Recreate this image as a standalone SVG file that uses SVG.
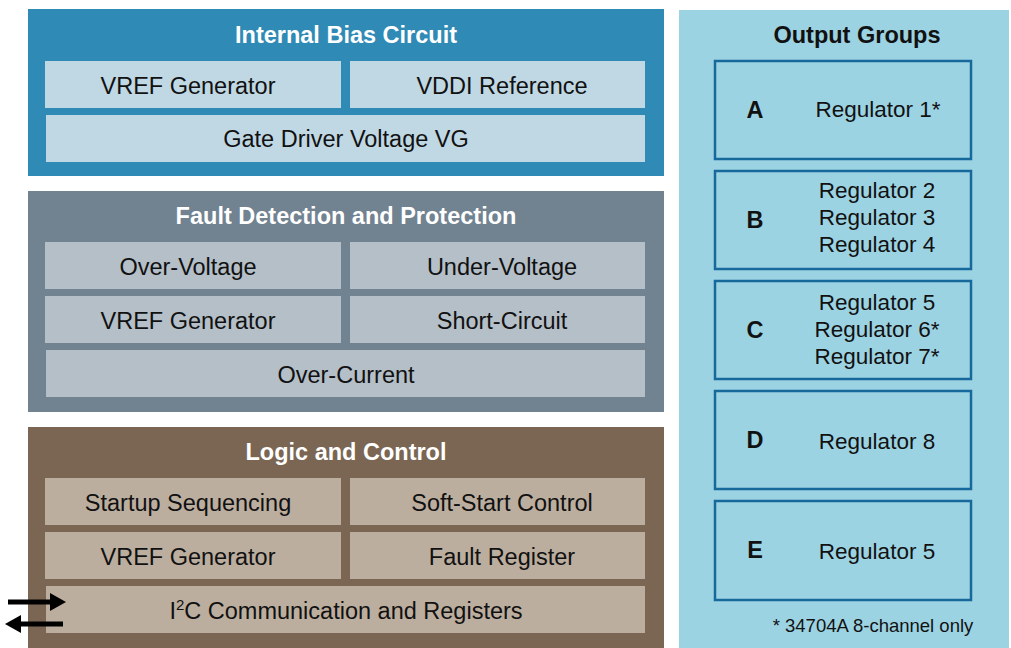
<svg xmlns="http://www.w3.org/2000/svg" width="1011" height="648" viewBox="0 0 1011 648">
<style>
text{font-family:"Liberation Sans",Arial,sans-serif;font-size:23.5px;fill:#111;text-anchor:middle}
.title{font-weight:bold;fill:#fff}
.otitle{font-weight:bold;fill:#111}
.letter{font-weight:bold}
.reg{font-size:22.5px}
.bi{fill:#c0d8e4}
.fi{fill:#b4bfc8}
.li{fill:#bcae9f}
.grp{fill:none;stroke:#16699a;stroke-width:2.5}
.arr{stroke:#000;stroke-width:5;fill:none}
.small{font-size:18.5px}
</style>
<defs>
<marker id="ah" viewBox="0 0 10 10" refX="5" refY="5" markerWidth="3.2" markerHeight="3.6" orient="auto" markerUnits="strokeWidth" preserveAspectRatio="none">
<path d="M0,0 L10,5 L0,10 Z" fill="#000"/>
</marker>
</defs>
<rect width="1011" height="648" fill="#fff"/>
<g id="internal-bias">
<rect x="28" y="9" width="636" height="167" fill="#2f8ab5"/>
<text class="title" x="346" y="43">Internal Bias Circuit</text>
<rect class="bi" x="45" y="61" width="296" height="47"/>
<text x="188" y="94">VREF Generator</text>
<rect class="bi" x="350" y="61" width="295" height="47"/>
<text x="502" y="94">VDDI Reference</text>
<rect class="bi" x="46" y="115" width="599" height="47"/>
<text x="346" y="147">Gate Driver Voltage VG</text>
</g>
<g id="fault">
<rect x="28" y="191" width="636" height="221" fill="#718291"/>
<text class="title" x="346" y="224">Fault Detection and Protection</text>
<rect class="fi" x="45" y="242" width="296" height="47"/>
<text x="188" y="275">Over-Voltage</text>
<rect class="fi" x="350" y="242" width="295" height="47"/>
<text x="502" y="275">Under-Voltage</text>
<rect class="fi" x="45" y="296" width="296" height="47"/>
<text x="188" y="329">VREF Generator</text>
<rect class="fi" x="350" y="296" width="295" height="47"/>
<text x="502" y="329">Short-Circuit</text>
<rect class="fi" x="46" y="350" width="599" height="47"/>
<text x="346" y="383">Over-Current</text>
</g>
<g id="logic">
<rect x="28" y="427" width="636" height="221" fill="#7a6652"/>
<text class="title" x="346" y="460">Logic and Control</text>
<rect class="li" x="45" y="478" width="296" height="47"/>
<text x="188" y="511">Startup Sequencing</text>
<rect class="li" x="350" y="478" width="295" height="47"/>
<text x="502" y="511">Soft-Start Control</text>
<rect class="li" x="45" y="532" width="296" height="47"/>
<text x="188" y="565">VREF Generator</text>
<rect class="li" x="350" y="532" width="295" height="47"/>
<text x="502" y="565">Fault Register</text>
<rect class="li" x="46" y="586" width="599" height="47"/>
<text x="346" y="619">I<tspan font-size="15" dy="-9">2</tspan><tspan dy="9">C Communication and Registers</tspan></text>
</g>
<g id="output-groups">
<rect x="679" y="10" width="330" height="638" fill="#9cd3e3"/>
<text class="otitle" x="857" y="43">Output Groups</text>
<g id="group-a">
<rect class="grp" x="715" y="61" width="256" height="98"/>
<text class="letter" x="755" y="118">A</text>
<text class="reg" x="878" y="117">Regulator 1*</text>
</g>
<g id="group-b">
<rect class="grp" x="715" y="171" width="256" height="98"/>
<text class="letter" x="755" y="228">B</text>
<text class="reg" x="877" y="198">Regulator 2</text>
<text class="reg" x="877" y="225">Regulator 3</text>
<text class="reg" x="877" y="252">Regulator 4</text>
</g>
<g id="group-c">
<rect class="grp" x="715" y="281" width="256" height="98"/>
<text class="letter" x="755" y="338">C</text>
<text class="reg" x="877" y="310">Regulator 5</text>
<text class="reg" x="877" y="337">Regulator 6*</text>
<text class="reg" x="877" y="364">Regulator 7*</text>
</g>
<g id="group-d">
<rect class="grp" x="715" y="391" width="256" height="98"/>
<text class="letter" x="755" y="448">D</text>
<text class="reg" x="877" y="449">Regulator 8</text>
</g>
<g id="group-e">
<rect class="grp" x="715" y="501" width="256" height="99"/>
<text class="letter" x="755" y="558">E</text>
<text class="reg" x="877" y="559">Regulator 5</text>
</g>
<text class="small" x="873" y="632">* 34704A 8-channel only</text>
</g>
<g id="connectors">
<line class="arr" x1="8" y1="602" x2="58" y2="602" marker-end="url(#ah)"/>
<line class="arr" x1="63" y1="624" x2="13" y2="624" marker-end="url(#ah)"/>
</g>
</svg>
